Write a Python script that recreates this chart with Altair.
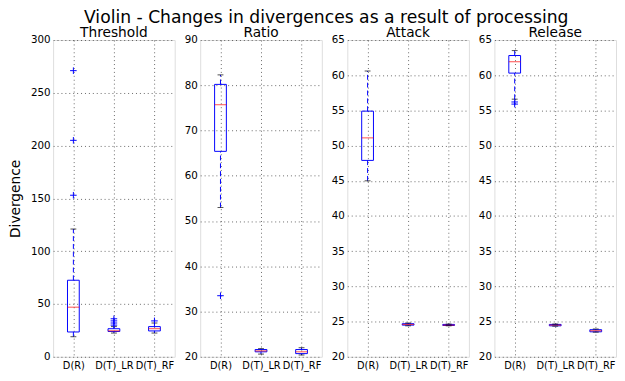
import altair as alt
import pandas as pd

cats = ["D(R)", "D(T)_LR", "D(T)_RF"]

threshold_lo = [19, 22.5, 22.5]
threshold_q1 = [23.5, 24.0, 24.5]
threshold_med = [47, 24.6, 26.6]
threshold_q3 = [72.5, 26.6, 28.6]
threshold_hi = [121, 28.6, 32.0]
threshold_out_cat = ["D(R)", "D(R)", "D(R)", "D(T)_LR", "D(T)_LR", "D(T)_LR", "D(T)_LR", "D(T)_RF"]
threshold_out_val = [153, 205, 271, 30.0, 32.0, 34.0, 36.0, 34.0]

ratio_lo = [53.0, 20.6, 20.4]
ratio_q1 = [65.4, 21.1, 20.7]
ratio_med = [75.7, 21.3, 21.1]
ratio_q3 = [80.2, 21.6, 21.6]
ratio_hi = [82.3, 21.8, 22.0]
ratio_out_cat = ["D(R)"]
ratio_out_val = [33.5]

attack_lo = [45.0, 24.4, 24.4]
attack_q1 = [47.9, 24.5, 24.45]
attack_med = [51.1, 24.6, 24.5]
attack_q3 = [54.9, 24.7, 24.6]
attack_hi = [60.6, 24.8, 24.65]
attack_out_cat = []
attack_out_val = []

release_lo = [56.6, 24.35, 23.5]
release_q1 = [60.3, 24.4, 23.55]
release_med = [61.9, 24.5, 23.7]
release_q3 = [62.8, 24.6, 23.85]
release_hi = [63.5, 24.65, 23.95]
release_out_cat = ["D(R)", "D(R)"]
release_out_val = [56.2, 55.9]

FONT = "DejaVu Sans"
PW, PH = 124, 323
CROSS = "M-1,0L1,0M0,-1L0,1"


def panel(name, lo, q1, med, q3, hi, out_cat, out_val, domain, step, ytitle):
    df = pd.DataFrame({"cat": cats, "lo": lo, "q1": q1, "med": med, "q3": q3, "hi": hi})
    od = pd.DataFrame({"cat": out_cat, "val": out_val})
    xaxis = alt.Axis(labelAngle=0, labelFont=FONT, labelFontSize=10, labelColor="black",
                     ticks=False, domain=False, grid=True, gridDash=[1, 3],
                     gridColor="#000", gridOpacity=0.6, labelPadding=4,
                     labelOverlap=False, labelBound=False)
    xsc = alt.Scale(type="point", padding=0.5)
    ticks_vals = list(range(domain[0], domain[1] + 1, step))
    yaxis = alt.Axis(values=ticks_vals, labelFont=FONT, labelFontSize=10.5, labelColor="black",
                     ticks=False, domain=False, grid=True, gridDash=[1, 3], gridColor="#000",
                     gridOpacity=0.6, labelPadding=3, labelOverlap=False, labelFlush=False,
                     title=ytitle if ytitle else None, titleFont=FONT, titleFontSize=14,
                     titleFontWeight="normal", titleColor="black", titlePadding=8)
    ysc = alt.Scale(domain=domain, nice=False, zero=False)

    def X():
        return alt.X("cat:N", sort=cats, title=None, scale=xsc, axis=xaxis)

    def Y(f):
        return alt.Y(f, scale=ysc, axis=yaxis)

    base = alt.Chart(df)
    wl = base.mark_rule(color="#0000ff", strokeDash=[5, 3], strokeWidth=1).encode(
        x=X(), y=Y("lo:Q"), y2="q1:Q")
    wh = base.mark_rule(color="#0000ff", strokeDash=[5, 3], strokeWidth=1).encode(
        x=X(), y=Y("q3:Q"), y2="hi:Q")
    box = base.mark_bar(size=12, fillOpacity=0, stroke="#0000ff", strokeWidth=1).encode(
        x=X(), y=Y("q1:Q"), y2="q3:Q")
    med_t = base.mark_tick(color="#ff0000", size=12, thickness=1).encode(x=X(), y=Y("med:Q"))
    cap_l = base.mark_tick(color="black", size=6, thickness=1).encode(x=X(), y=Y("lo:Q"))
    cap_h = base.mark_tick(color="black", size=6, thickness=1).encode(x=X(), y=Y("hi:Q"))
    layers = [wl, wh, box, med_t, cap_l, cap_h]
    if len(out_val):
        pts = alt.Chart(od).mark_point(shape=CROSS, size=45, filled=False, color="#0000ff",
                                       strokeWidth=1, opacity=1).encode(x=X(), y=Y("val:Q"))
        layers.append(pts)
    return alt.layer(*layers).properties(
        width=PW, height=PH,
        title=alt.TitleParams(name, font=FONT, fontSize=14, fontWeight="normal", color="black", offset=-5))


p1 = panel("Threshold", threshold_lo, threshold_q1, threshold_med, threshold_q3, threshold_hi,
           threshold_out_cat, threshold_out_val, (0, 300), 50, "Divergence")
p2 = panel("Ratio", ratio_lo, ratio_q1, ratio_med, ratio_q3, ratio_hi,
           ratio_out_cat, ratio_out_val, (20, 90), 10, None)
p3 = panel("Attack", attack_lo, attack_q1, attack_med, attack_q3, attack_hi,
           attack_out_cat, attack_out_val, (20, 65), 5, None)
p4 = panel("Release", release_lo, release_q1, release_med, release_q3, release_hi,
           release_out_cat, release_out_val, (20, 65), 5, None)

chart = alt.hconcat(p1, p2, p3, p4, spacing=26, bounds="flush").properties(
    title=alt.TitleParams("Violin - Changes in divergences as a result of processing",
                          font=FONT, fontSize=17.5, fontWeight="normal", color="black",
                          anchor="middle", offset=-1, dx=14),
    padding={"left": 0, "top": -2, "right": 0, "bottom": 5},
).configure_view(stroke="#000", strokeWidth=1).configure(background="white")

chart.save("out.html", embed_options={"renderer": "svg", "actions": False})
